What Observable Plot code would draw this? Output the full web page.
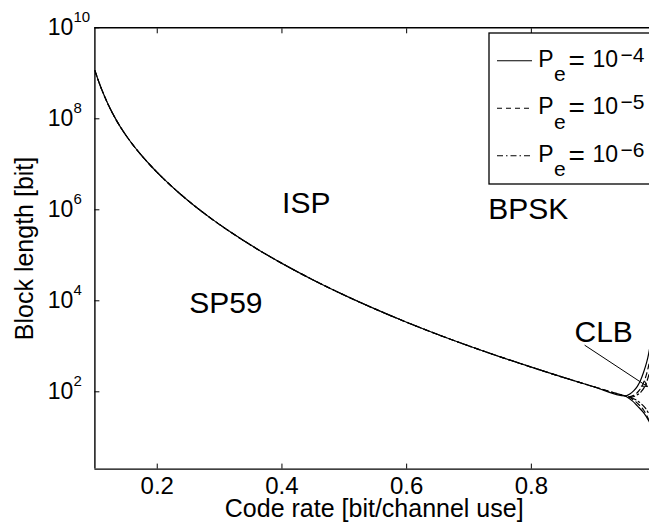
<!DOCTYPE html>
<html><head><meta charset="utf-8">
<script src="https://cdn.jsdelivr.net/npm/d3@7"></script>
<script src="https://cdn.jsdelivr.net/npm/@observablehq/plot@0.6"></script>
<style>html,body{margin:0;padding:0;background:#fff;overflow:hidden}</style>
</head><body><div id="chart"></div>
<script>
// ---------------- data ----------------
const xTicks = [0.2, 0.4, 0.6, 0.8];
const xTickLabels = ["0.2", "0.4", "0.6", "0.8"];
const yTickExponents = [2, 4, 6, 8, 10];
const xDomain = [0.1, 0.9895];
const yDomain = [2, 1e10];

const seriesNames = ["Pe=1e-4", "Pe=1e-5", "Pe=1e-6"];
const legendExponents = ["\u22124", "\u22125", "\u22126"];

// common ISP curve (code rate, log10 block length)
const mainRate  = [0.100, 0.110, 0.120, 0.135, 0.150, 0.170, 0.190, 0.210, 0.235, 0.260, 0.290, 0.320, 0.360, 0.400, 0.450, 0.500, 0.550, 0.600, 0.650, 0.700, 0.750, 0.800, 0.850, 0.900, 0.951];
const mainLog10 = [9.06, 8.675, 8.353, 7.955, 7.633, 7.273, 6.962, 6.684, 6.370, 6.085, 5.773, 5.488, 5.140, 4.822, 4.458, 4.124, 3.816, 3.528, 3.259, 3.007, 2.769, 2.542, 2.322, 2.112, 1.908];

// CLB branches per series
const upperRate  = [
  [0.951, 0.958, 0.964, 0.970, 0.975, 0.980, 0.985, 0.988, 0.992, 0.996],
  [0.956, 0.965, 0.973, 0.980, 0.985, 0.990, 0.995],
  [0.959, 0.968, 0.976, 0.983, 0.989, 0.995]
];
const upperLog10 = [
  [1.908, 1.95, 2.02, 2.12, 2.25, 2.43, 2.65, 2.83, 3.15, 3.6],
  [1.89, 1.93, 2.03, 2.20, 2.40, 2.70, 3.10],
  [1.88, 1.92, 2.00, 2.15, 2.40, 2.80]
];
const lowerRate  = [
  [0.951, 0.962, 0.970, 0.980, 0.988, 0.995],
  [0.956, 0.965, 0.973, 0.980, 0.985, 0.990, 0.995],
  [0.959, 0.968, 0.976, 0.983, 0.989, 0.995]
];
const lowerLog10 = [
  [1.908, 1.80, 1.69, 1.54, 1.37, 1.18],
  [1.89, 1.81, 1.71, 1.60, 1.48, 1.33, 1.15],
  [1.88, 1.82, 1.74, 1.64, 1.50, 1.30]
];

// annotations (data coordinates)
const labelText = ["ISP", "BPSK", "SP59", "CLB"];
const labelRate = [0.439, 0.795, 0.310, 0.916];
const labelLog10 = [6.13, 6.0, 3.94, 3.30];
const arrowFrom = [0.886, 3.02];
const arrowTo = [0.986, 2.117];

// ---------------- build tables ----------------
function seriesRows(i) {
  const rows = [];
  const j = upperRate[i][0];
  mainRate.forEach((r, k) => { if (r < j) rows.push({id: "u", rate: r, n: 10 ** mainLog10[k]}); });
  upperRate[i].forEach((r, k) => rows.push({id: "u", rate: r, n: 10 ** upperLog10[i][k]}));
  lowerRate[i].forEach((r, k) => rows.push({id: "l", rate: r, n: 10 ** lowerLog10[i][k]}));
  return rows;
}
const FONT = '"Liberation Sans", Arial, Helvetica, sans-serif';
const dashes = [null, "5,4", "6,3,1.5,3"];

const lineMarks = [2, 1, 0].map(i => Plot.line(seriesRows(i), {
  x: "rate", y: "n", z: "id", stroke: "black", strokeWidth: 1.2,
  strokeDasharray: dashes[i], curve: "monotone-x", clip: true
}));

const labels = labelText.map((t, i) => ({t, x: labelRate[i], y: 10 ** labelLog10[i]}));

const plot = Plot.plot({
  width: 649, height: 524,
  marginLeft: 94.4, marginRight: 0, marginTop: 27.3, marginBottom: 55.4,
  style: {fontFamily: FONT, fontSize: "24px", color: "black", background: "white"},
  x: {domain: xDomain, label: null},
  y: {type: "log", domain: yDomain, label: null},
  marks: [
    ...lineMarks,
    Plot.arrow([{x1: arrowFrom[0], y1: 10 ** arrowFrom[1], x2: arrowTo[0], y2: 10 ** arrowTo[1]}],
      {x1: "x1", y1: "y1", x2: "x2", y2: "y2", stroke: "black", strokeWidth: 1, headLength: 9, insetEnd: 0}),
    Plot.text(labels, {x: "x", y: "y", text: "t", fontSize: 30, fill: "black"}),
    // frame lines (left, top, bottom)
    Plot.ruleX([xDomain[0]], {stroke: "black", strokeWidth: 1.4}),
    Plot.ruleY(yDomain, {stroke: "black", strokeWidth: 1.4}),
    // ticks (inward)
    Plot.axisX(xTicks, {anchor: "bottom", tickSize: -5, tickFormat: () => "", label: null}),
    Plot.axisX(xTicks, {anchor: "top", tickSize: -5, tickFormat: () => "", label: null}),
    Plot.axisY(yTickExponents.map(e => 10 ** e), {anchor: "left", tickSize: -5, tickFormat: () => "", label: null}),
    // tick labels
    Plot.axisX(xTicks, {anchor: "bottom", tickSize: 0, tickPadding: 8, fontSize: 24,
      tickFormat: d => xTickLabels[xTicks.indexOf(d)], label: null}),
    Plot.text(yTickExponents, {y: d => 10 ** d, frameAnchor: "left", text: () => "10",
      textAnchor: "end", lineAnchor: "middle", dx: -21.5, fontSize: 23, fill: "black"}),
    Plot.text(yTickExponents, {y: d => 10 ** d, frameAnchor: "left", text: d => String(d),
      textAnchor: "start", lineAnchor: "middle", dx: -21.5, dy: -11, fontSize: 15, fill: "black"}),
    // axis titles
    Plot.text(["Code rate [bit/channel use]"], {frameAnchor: "bottom", textAnchor: "middle", lineAnchor: "middle",
      dy: 40, dx: 2, fontSize: 25, fill: "black"}),
    Plot.text(["Block length [bit]"], {frameAnchor: "left", textAnchor: "middle", lineAnchor: "middle",
      dx: -70, rotate: -90, fontSize: 25, fill: "black"})
  ]
});
document.getElementById("chart").appendChild(plot);

// ---------------- legend ----------------
const svg = d3.select(plot);
const g = svg.append("g").attr("font-family", FONT).attr("fill", "black").attr("text-anchor", "start");
g.append("rect").attr("x", 489).attr("y", 33).attr("width", 200).attr("height", 151)
  .attr("fill", "white").attr("stroke", "black").attr("stroke-width", 1.3);
seriesNames.forEach((name, i) => {
  const y0 = 60.7 + i * 47.5;
  const ln = g.append("line").attr("x1", 497).attr("x2", 532).attr("y1", y0).attr("y2", y0)
    .attr("stroke", "black").attr("stroke-width", 1.1);
  if (dashes[i]) ln.attr("stroke-dasharray", dashes[i]);
  g.append("text").attr("x", 538.3).attr("y", y0 + 6).attr("font-size", 23).text("P");
  g.append("text").attr("x", 554).attr("y", y0 + 20.6).attr("font-size", 21).text("e");
  g.append("text").attr("x", 568.5).attr("y", y0 + 9).attr("font-size", 28).text("=");
  g.append("text").attr("x", 592.5).attr("y", y0 + 6).attr("font-size", 23).text("10");
  g.append("text").attr("x", 620.5).attr("y", y0 + 1).attr("font-size", 21).text(legendExponents[i]);
});
</script>
</body></html>
